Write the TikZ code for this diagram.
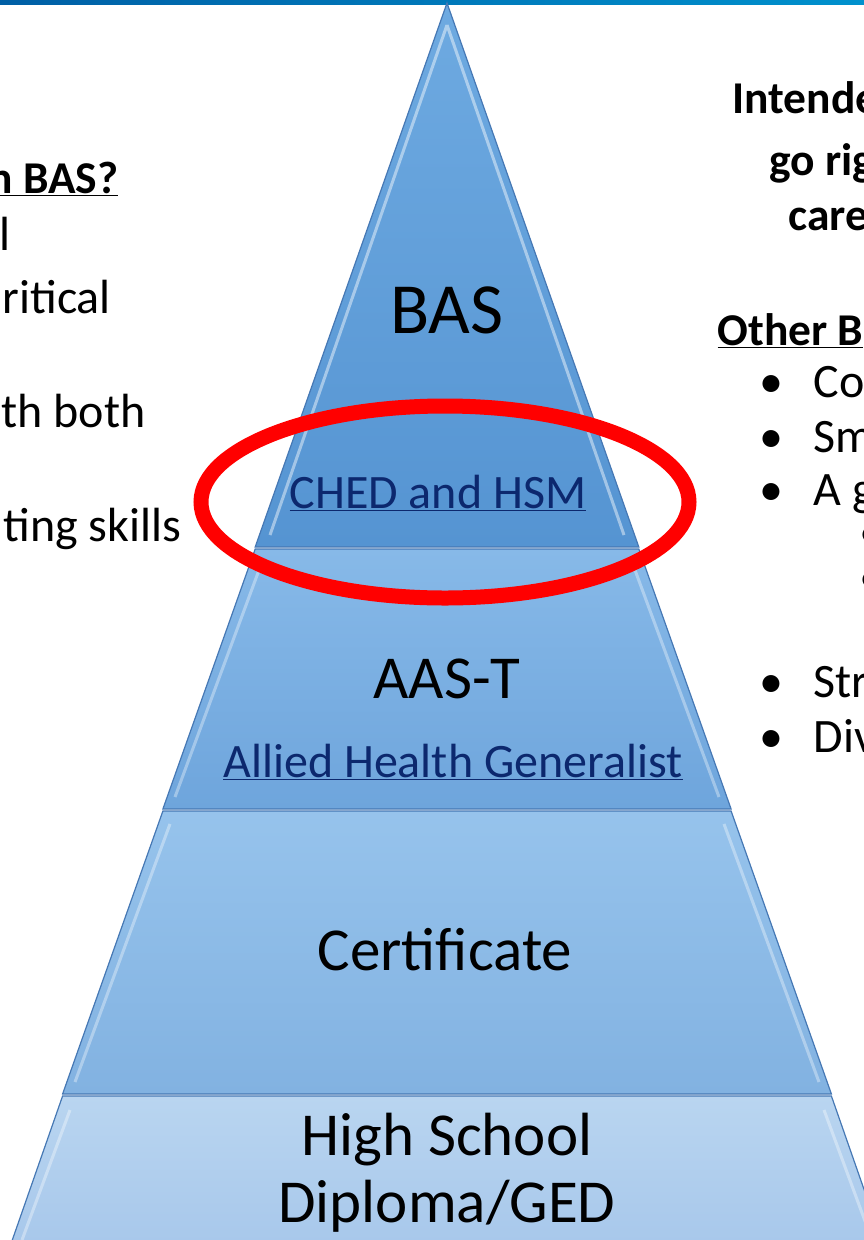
\documentclass[tikz,border=0pt]{standalone}
\usepackage{fontspec}
\setmainfont{Carlito}
\definecolor{barL}{RGB}{0,95,165}
\definecolor{barR}{RGB}{0,145,205}
\definecolor{edgeblue}{RGB}{70,120,180}
\definecolor{linkblue}{RGB}{12,40,110}
\definecolor{basT}{RGB}{110,170,225}\definecolor{basB}{RGB}{85,148,210}
\definecolor{aasT}{RGB}{135,185,232}\definecolor{aasB}{RGB}{110,165,220}
\definecolor{cerT}{RGB}{150,195,236}\definecolor{cerB}{RGB}{130,178,225}
\definecolor{hsT}{RGB}{185,213,240}\definecolor{hsB}{RGB}{168,200,235}
\begin{document}
\begin{tikzpicture}[x=1pt,y=-1pt,
  level/.style={draw=edgeblue,line width=1.2pt},
  big/.style={anchor=base,font=\fontsize{61}{66}\selectfont},
  link/.style={anchor=base,text=linkblue,font=\fontsize{48}{54}\selectfont},
  side/.style={anchor=base west,font=\fontsize{48}{54}\selectfont},
  head/.style={anchor=base west,font=\fontsize{45.5}{54}\selectfont\bfseries}]
\useasboundingbox (0,0) rectangle (864,1240);
\shade[left color=barL,right color=barR] (0,0) rectangle (864,4);
% pyramid levels
\shade[level,top color=basT,bottom color=basB] (447,3)--(638.8,547)--(255.2,547)--cycle;
\shade[level,top color=aasT,bottom color=aasB] (255.2,549)--(638.8,549)--(731.1,809)--(162.9,809)--cycle;
\shade[level,top color=cerT,bottom color=cerB] (162.9,811)--(731.1,811)--(831.4,1094)--(62.6,1094)--cycle;
\shade[level,top color=hsT,bottom color=hsB] (62.6,1096)--(831.4,1096)--(882.4,1242)--(11.6,1242)--cycle;
\draw[white,opacity=.45,line width=3pt] (447,25)--(270,535) (447,25)--(624,535);
\draw[white,opacity=.35,line width=3pt] (262,562)--(175,797) (632,562)--(719,797);
\draw[white,opacity=.35,line width=3pt] (170,824)--(75,1082) (724,824)--(819,1082);
\draw[white,opacity=.35,line width=3pt] (70,1110)--(22,1240) (824,1110)--(872,1240);
% labels
\node[big,font=\fontsize{72}{78}\selectfont] (bas)at(447,333){BAS};
\node[link] (ched)at(438,508){\underline{CHED and HSM}};
\node[big] (aast)at(447,698){AAS-T};
\node[link] (ahg)at(453,777){\underline{Allied Health Generalist}};
\node[big] (cert)at(445,970){Certificate};
\node[big] (hs1)at(447,1155){High School};
\node[big] (hs2)at(447,1222){Diploma/GED};
\draw[red,line width=15pt] (445,502) ellipse (244 and 96);
% left column
\node[head] (q)at(-15,193){\underline{n BAS?}};
\node[side] (l1)at(-4,250){l};
\node[side] (l2)at(-1,313){ritical};
\node[side] (l3)at(-2,427){th both};
\node[side] (l4)at(0,541){ting skills};
% right column
\node[head] (r1)at(729,113){Intende};
\node[head] (r2)at(766,175){go rig};
\node[head] (r3)at(785,230){care};
\node[head] (r4)at(714,345){\underline{Other B}};
\foreach \y/\t [count=\i] in {397/Co,452/Sm,505/A g,697/Str,752/Div}{
  \node[side] (b\i)at(756,\y){•};
  \node[side] (t\i)at(810,\y){\t};}
\node[side] (s1)at(856,548){•};
\node[side] (s2)at(856,593){•};
\end{tikzpicture}
\end{document}
